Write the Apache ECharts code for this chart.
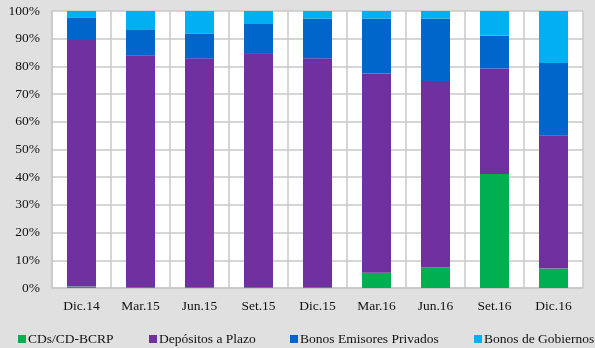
<!DOCTYPE html>
<html><head><meta charset="utf-8">
<script src="https://cdn.jsdelivr.net/npm/echarts@6/dist/echarts.min.js"></script>
<style>html,body{margin:0;padding:0;background:#e0e0e0;}#c{width:595px;height:348px;}</style>
</head><body><div id="c"></div>
<script>
var categories = ['Dic.14','Mar.15','Jun.15','Set.15','Dic.15','Mar.16','Jun.16','Set.16','Dic.16'];
var cds        = [0.5, 0.2, 0.2, 0.2, 0.2, 5.5, 7.4, 41.2, 7.0];
var depositos  = [89.0, 83.8, 82.7, 84.3, 82.7, 71.9, 67.3, 38.0, 48.1];
var privados   = [8.2, 9.4, 9.0, 10.8, 14.4, 19.9, 22.6, 12.0, 26.1];
var gobiernos  = [2.3, 6.6, 8.1, 4.7, 2.7, 2.7, 2.7, 8.8, 18.8];
var yTicks = [0,10,20,30,40,50,60,70,80,90,100];

var names = ['CDs/CD-BCRP','Depósitos a Plazo','Bonos Emisores Privados','Bonos de Gobiernos'];
var colors = ['#00b050','#7030a0','#0066cc','#00b0f0'];
var datas = [cds, depositos, privados, gobiernos];
var legendLeft = [13, 144, 285, 469];
var font = 'Liberation Serif';

var chart = echarts.init(document.getElementById('c'), null, {renderer:'canvas'});
chart.setOption({
  backgroundColor:'#e0e0e0',
  animation:false,
  textStyle:{fontFamily:font},
  grid:{left:52,right:12,top:11,bottom:60,show:true,backgroundColor:'#ffffff',borderWidth:0},
  legend: names.map(function(n,i){return {
    data:[n], left:legendLeft[i], top:327, itemWidth:8, itemHeight:8, itemGap:0,
    icon:'rect', textStyle:{fontFamily:font,fontSize:13.5,color:'#111',padding:[0,0,0,-3]}
  };}),
  xAxis:{type:'category',data:categories,
    axisLine:{show:true,lineStyle:{color:'#c8c8c8',width:1.5}},
    axisTick:{show:false},
    splitLine:{show:true,lineStyle:{color:'#c8c8c8',width:1.5}},
    axisLabel:{fontFamily:font,fontSize:13.5,color:'#111',margin:11}},
  yAxis:{type:'value',min:0,max:100,interval:10,
    axisLine:{show:true,lineStyle:{color:'#c8c8c8',width:1.5}},
    axisTick:{show:false},
    splitLine:{show:true,lineStyle:{color:'#c8c8c8',width:1.5}},
    axisLabel:{fontFamily:font,fontSize:13.5,color:'#111',margin:12,
      formatter:function(v){return yTicks.indexOf(v)>=0? v+'%':'';}}},
  series: names.map(function(n,i){return {
    name:n,type:'bar',stack:'a',data:datas[i],barWidth:29,
    itemStyle:{color:colors[i]}
  };})
});
</script></body></html>
